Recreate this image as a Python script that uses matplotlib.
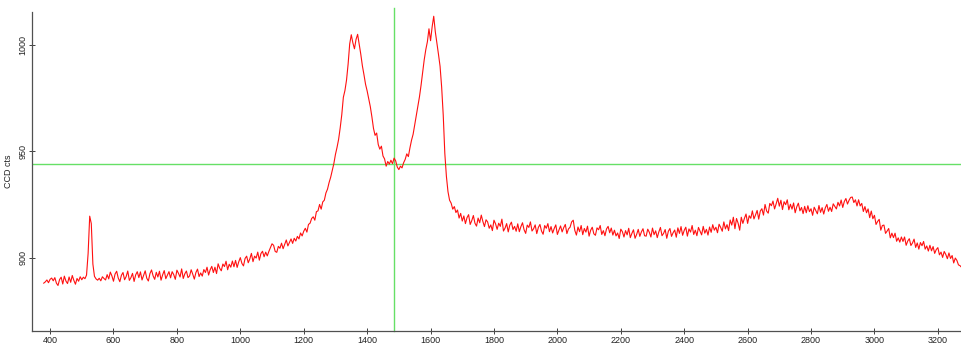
import numpy as np
import matplotlib
matplotlib.use("Agg")
import matplotlib.pyplot as plt

plt.rcParams['font.family'] = ['Liberation Sans', 'DejaVu Sans']

# Raman spectrum (CCD counts vs Raman shift, cm^-1), sampled every 5 cm^-1
shift_low = np.arange(380, 1180, 5)
counts_low = [
    888.0, 888.6, 889.5, 888.2, 889.8, 890.4, 889.1, 890.6, 888.0, 886.9, 889.7, 890.8, 887.6, 891.3, 889.0, 887.8, 890.9, 888.4, 891.6, 889.3,
    887.5, 890.2, 888.9, 891.0, 889.6, 890.8, 890.1, 891.8, 902.0, 919.5, 916.0, 897.0, 891.2, 890.0, 889.4, 890.3, 889.1, 891.0, 890.2, 889.5,
    892.0, 890.0, 893.2, 891.4, 888.9, 892.3, 893.6, 890.4, 888.7, 891.7, 893.0, 889.6, 891.1, 893.7, 889.3, 890.6, 892.6, 888.8, 891.9, 893.4,
    890.6, 893.3, 889.5, 891.6, 893.8, 890.3, 889.0, 892.5, 894.2, 891.4, 889.8, 893.1, 890.9, 893.6, 889.4, 891.9, 893.9, 890.1, 891.7, 893.4,
    890.5, 893.4, 892.0, 889.8, 894.1, 892.6, 890.9, 894.7, 890.2, 892.4, 893.7, 890.6, 891.4, 894.3, 892.2, 889.9, 893.0, 894.6, 891.1, 892.8,
    891.3, 894.4, 893.0, 895.5, 891.8, 894.3, 895.9, 893.0, 895.5, 892.5, 897.1, 895.0, 893.8, 897.0, 895.8, 898.3, 894.3, 896.9, 895.5, 898.4,
    895.7, 898.7, 895.4, 898.0, 900.0, 897.3, 896.1, 899.6, 900.7, 897.6, 899.4, 902.0, 898.1, 900.7, 899.8, 902.6, 898.8, 901.9, 903.0, 900.4,
    902.6, 900.8, 902.9, 904.7, 906.5, 905.8, 902.9, 902.5, 905.3, 904.4, 906.8, 904.2, 906.3, 908.3, 905.5, 907.2, 908.8, 906.7, 909.1, 907.8,
]

shift_bands = np.arange(1180, 1780, 5)
counts_bands = [
    910.0, 908.8, 911.6, 910.2, 912.4, 913.8, 912.0, 915.6, 916.2, 918.4, 919.2, 917.6, 921.6, 922.0, 925.0, 922.8, 926.2, 927.0, 930.4, 932.2,
    935.3, 937.8, 941.0, 944.2, 948.5, 951.8, 955.6, 961.0, 967.2, 975.4, 978.6, 983.5, 991.0, 1000.5, 1004.8, 1001.0, 998.2, 1002.6, 1005.0, 1000.4,
    995.6, 990.2, 986.0, 981.5, 978.4, 974.8, 971.0, 966.2, 960.8, 957.5, 958.6, 953.2, 951.0, 952.4, 947.8, 946.4, 943.0, 945.2, 944.0, 945.8,
    944.2, 946.8, 945.5, 942.6, 941.4, 943.0, 942.2, 944.6, 946.2, 948.8, 947.5, 951.6, 955.2, 958.0, 962.4, 966.8, 971.2, 975.6, 981.0, 987.2,
    993.0, 997.8, 1001.5, 1007.6, 1002.0, 1008.5, 1013.5, 1006.2, 1001.0, 995.6, 990.0, 980.2, 967.0, 949.0, 938.2, 931.0, 927.0, 925.6, 922.8, 924.0,
    921.2, 922.4, 918.6, 920.8, 917.2, 919.6, 916.0, 918.8, 920.2, 915.6, 917.4, 919.8, 916.2, 914.8, 918.6, 916.4, 920.0, 917.0, 914.6, 917.8,
]

shift_mid = np.arange(1780, 2580, 5)
counts_mid = [
    916.8, 913.8, 915.4, 912.7, 917.6, 915.9, 913.3, 916.2, 914.7, 918.1, 912.5, 913.9, 916.0, 912.1, 915.3, 916.7, 913.2, 914.7, 912.4, 915.9,
    912.2, 914.6, 916.4, 913.1, 911.4, 915.3, 914.2, 916.8, 912.5, 913.6, 915.4, 911.3, 914.2, 915.6, 912.5, 911.0, 915.1, 913.8, 916.0, 912.2,
    914.6, 911.6, 913.7, 915.4, 910.9, 913.0, 914.9, 912.1, 914.1, 915.6, 911.3, 913.5, 914.3, 916.8, 917.6, 912.8, 910.6, 914.4, 912.2, 915.1,
    910.8, 913.7, 912.0, 914.8, 910.1, 912.9, 914.3, 911.2, 910.5, 914.0, 913.1, 915.1, 910.9, 912.7, 910.3, 913.5, 914.7, 911.7, 913.9, 910.6,
    912.9, 910.2, 911.6, 909.0, 913.4, 912.2, 909.7, 912.7, 910.7, 913.8, 909.4, 911.4, 913.1, 909.1, 910.9, 913.3, 910.0, 912.1, 913.6, 910.3,
    910.1, 913.4, 911.9, 909.7, 913.9, 910.8, 912.6, 909.4, 912.1, 914.2, 910.3, 911.4, 913.2, 909.1, 912.4, 913.7, 910.0, 911.7, 913.0, 909.6,
    914.0, 911.4, 914.6, 910.5, 912.8, 914.3, 910.1, 913.5, 912.0, 915.1, 910.9, 912.9, 910.3, 914.2, 912.5, 910.7, 914.7, 911.5, 913.3, 910.6,
    914.4, 911.9, 915.5, 912.9, 914.3, 911.7, 915.7, 914.2, 912.4, 916.8, 913.5, 915.5, 912.7, 917.7, 915.3, 919.0, 913.6, 918.4, 916.2, 912.9,
]

shift_high = np.arange(2580, 3280, 5)
counts_high = [
    919.0, 916.1, 918.5, 920.5, 916.1, 919.7, 918.5, 922.0, 918.2, 920.1, 922.2, 918.1, 921.9, 923.0, 920.0, 925.0, 921.9, 920.9, 925.5, 924.4,
    926.6, 922.9, 925.3, 927.9, 924.2, 927.0, 922.6, 926.3, 924.9, 927.2, 922.5, 925.1, 922.8, 925.7, 921.1, 923.9, 925.6, 922.0, 923.6, 920.7,
    924.1, 921.1, 924.4, 921.6, 923.0, 919.9, 923.7, 922.2, 920.6, 924.5, 921.3, 923.5, 920.5, 923.4, 925.0, 921.8, 923.7, 921.7, 925.3, 924.1,
    922.9, 926.0, 924.3, 927.1, 923.6, 926.4, 927.8, 925.2, 927.0, 928.3, 928.5, 925.9, 927.2, 924.3, 927.2, 924.3, 925.5, 921.7, 924.0, 921.1,
    922.9, 918.8, 921.9, 918.3, 919.9, 915.6, 917.0, 918.0, 912.9, 915.1, 915.3, 911.4, 912.5, 913.7, 909.3, 911.5, 909.4, 911.5, 907.7, 909.3,
    907.3, 909.7, 907.6, 909.7, 905.8, 907.8, 908.9, 905.7, 906.9, 908.7, 904.8, 906.9, 904.0, 907.1, 905.6, 907.6, 904.0, 905.5, 903.1, 905.8,
    903.2, 905.2, 902.0, 903.8, 904.7, 901.3, 902.6, 900.1, 902.9, 901.5, 899.5, 902.2, 899.6, 901.0, 897.5, 899.8, 898.7, 896.6, 896.2, 895.4,
]

# Cursor crosshair position
cursor_shift = 1484
cursor_counts = 944

x_ticks = [400, 600, 800, 1000, 1200, 1400, 1600, 1800, 2000, 2200, 2400, 2600, 2800, 3000, 3200]
y_ticks = [900, 950, 1000]

shift = np.concatenate([shift_low, shift_bands, shift_mid, shift_high])
counts = np.concatenate([counts_low, counts_bands, counts_mid, counts_high])

fig = plt.figure(figsize=(9.61, 3.48), dpi=100)
ax = fig.add_axes([32 / 961, 17 / 348, 1 - 32 / 961, (331 - 12) / 348])

ax.plot(shift, counts, color='#ff1010', lw=0.8, zorder=3)
ax.axhline(cursor_counts, color='#66e066', lw=1.0, zorder=2)
ax.axvline(cursor_shift, ymin=0, ymax=1.012, color='#66e066', lw=1.0, zorder=2, clip_on=False)

ax.set_xlim(343, 3273)
ax.set_ylim(865.5, 1015.5)
ax.set_xticks(x_ticks)
ax.set_yticks(y_ticks)

for side in ('top', 'right'):
    ax.spines[side].set_visible(False)
for side in ('left', 'bottom'):
    ax.spines[side].set_color('#505050')
    ax.spines[side].set_linewidth(0.9)

ax.tick_params(axis='both', direction='inout', length=4, width=0.7, color='#404040',
               labelsize=6.5, labelcolor='#222222', pad=1.5)
for lbl in ax.get_yticklabels():
    lbl.set_rotation(90)
    lbl.set_va('center')

ax.set_ylabel('CCD cts', fontsize=6.5, color='#222222', labelpad=4)

fig.savefig('out.png', dpi=100)
